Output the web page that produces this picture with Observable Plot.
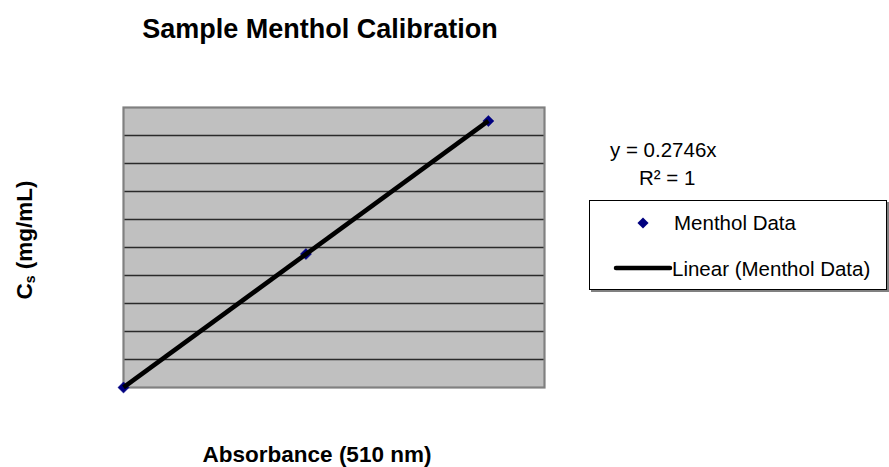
<!DOCTYPE html>
<html>
<head>
<meta charset="utf-8">
<script src="https://cdn.jsdelivr.net/npm/d3@7"></script>
<script src="https://cdn.jsdelivr.net/npm/@observablehq/plot@0.6"></script>
<style>
  html, body { margin: 0; padding: 0; background: #fff; }
  #chart { position: relative; width: 889px; height: 467px; }
  #chart svg { display: block; font-family: "Liberation Sans", Arial, sans-serif; }
</style>
</head>
<body>
<div id="chart"></div>
<script>
// ---- data ----
const absorbance = [0, 0.52, 1.04];          // x: Absorbance (510 nm)
const concentration = [0, 0.143, 0.2855];    // y: Cs (mg/mL)
const gridValues = [0.03, 0.06, 0.09, 0.12, 0.15, 0.18, 0.21, 0.24, 0.27];
const xDomain = [0, 1.2];
const yDomain = [0, 0.3];

const titleText = "Sample Menthol Calibration";
const xLabel = "Absorbance (510 nm)";
const yLabelMain = "C";
const yLabelSub = "s";
const yLabelRest = " (mg/mL)";
const equationText = "y = 0.2746x";
const r2Text = "R² = 1";
const seriesName = "Menthol Data";
const trendName = "Linear (Menthol Data)";

const data = absorbance.map((a, i) => ({x: a, y: concentration[i]}));

const W = 889, H = 467;
const font = '"Liberation Sans", Arial, sans-serif';

const plot = Plot.plot({
  width: W,
  height: H,
  marginLeft: 123,
  marginRight: 345,
  marginTop: 107,
  marginBottom: 80,
  style: {fontFamily: font, background: "white", overflow: "visible"},
  x: {domain: xDomain, axis: null},
  y: {domain: yDomain, axis: null},
  marks: [
    Plot.frame({fill: "#c0c0c0", stroke: null}),
    Plot.ruleY(gridValues, {stroke: "#1a1a1a", strokeWidth: 1.5, strokeOpacity: 0.9}),
    Plot.frame({stroke: "#808080", strokeWidth: 2.2, fill: null}),
    Plot.dot(data, {x: "x", y: "y", symbol: "diamond2", r: 5, fill: "#000080", stroke: "#000080", strokeWidth: 0.5, clip: false}),
    Plot.linearRegressionY(data, {x: "x", y: "y", ci: 0, stroke: "black", strokeWidth: 4.6, strokeLinecap: "butt"})
  ]
});

document.getElementById("chart").appendChild(plot);

// ---- annotations: title, axis titles, trendline label, legend ----
const svg = d3.select(plot);
const g = svg.append("g")
  .attr("font-family", font)
  .attr("fill", "black")
  .attr("text-anchor", "start");

g.append("text")
  .attr("x", 320).attr("y", 38)
  .attr("text-anchor", "middle")
  .attr("font-size", 27).attr("font-weight", "bold")
  .text(titleText);

g.append("text")
  .attr("x", 317).attr("y", 462)
  .attr("text-anchor", "middle")
  .attr("font-size", 22.5).attr("font-weight", "bold")
  .text(xLabel);

const yl = g.append("text")
  .attr("transform", "translate(32,240) rotate(-90)")
  .attr("text-anchor", "middle")
  .attr("font-size", 22.5).attr("font-weight", "bold");
yl.append("tspan").text(yLabelMain);
yl.append("tspan").attr("font-size", 14).attr("dy", 3).text(yLabelSub);
yl.append("tspan").attr("dy", -3).text(yLabelRest);

g.append("text")
  .attr("x", 610).attr("y", 157)
  .attr("font-size", 20.5)
  .text(equationText);
g.append("text")
  .attr("x", 639).attr("y", 185)
  .attr("font-size", 20.5)
  .text(r2Text);

// legend box with shadow
const lg = g.append("g");
lg.append("rect").attr("x", 591).attr("y", 202).attr("width", 298).attr("height", 90).attr("fill", "#808080");
lg.append("rect").attr("x", 589.5).attr("y", 200.5).attr("width", 297).attr("height", 89)
  .attr("fill", "white").attr("stroke", "black").attr("stroke-width", 1);
lg.append("path")
  .attr("transform", "translate(643,223)")
  .attr("d", d3.symbol(d3.symbolDiamond2, Math.PI * 5 * 5)())
  .attr("fill", "#000080");
lg.append("text").attr("x", 674).attr("y", 229.5).attr("font-size", 20.5).text(seriesName);
lg.append("line").attr("x1", 616).attr("x2", 670).attr("y1", 268).attr("y2", 268)
  .attr("stroke", "black").attr("stroke-width", 4.5).attr("stroke-linecap", "round");
lg.append("text").attr("x", 672).attr("y", 276).attr("font-size", 20.5).text(trendName);
</script>
</body>
</html>
